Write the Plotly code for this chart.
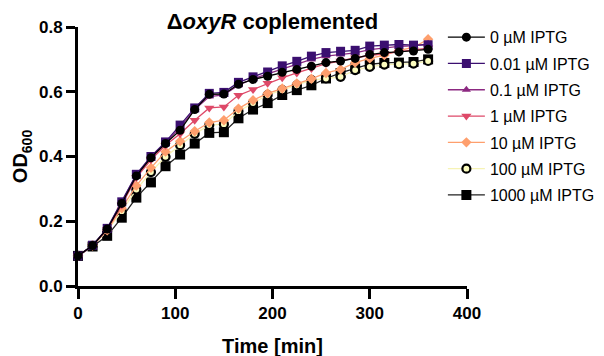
import plotly.graph_objects as go

time_min = [0, 15, 30, 45, 60, 75, 90, 105, 120, 135, 150, 165, 180, 195, 210,
            225, 240, 255, 270, 285, 300, 315, 330, 345, 360]

od_0uM = [0.093, 0.125, 0.176, 0.255, 0.340, 0.396, 0.440, 0.481, 0.545, 0.592, 0.593, 0.623, 0.638,
          0.648, 0.660, 0.669, 0.679, 0.690, 0.695, 0.703, 0.715, 0.721, 0.723, 0.726, 0.731]
od_001uM = [0.093, 0.126, 0.178, 0.260, 0.345, 0.400, 0.445, 0.497, 0.550, 0.595, 0.598, 0.629, 0.646,
            0.661, 0.680, 0.694, 0.710, 0.721, 0.725, 0.728, 0.741, 0.744, 0.746, 0.744, 0.745]
od_01uM = [0.093, 0.125, 0.177, 0.258, 0.343, 0.398, 0.442, 0.490, 0.545, 0.585, 0.590, 0.620, 0.640,
           0.655, 0.670, 0.685, 0.700, 0.710, 0.715, 0.720, 0.730, 0.735, 0.740, 0.742, 0.748]
od_1uM = [0.093, 0.124, 0.175, 0.250, 0.335, 0.390, 0.435, 0.470, 0.512, 0.550, 0.553, 0.589, 0.607,
          0.626, 0.643, 0.658, 0.672, 0.687, 0.695, 0.705, 0.712, 0.718, 0.722, 0.728, 0.735]
od_10uM = [0.093, 0.125, 0.172, 0.240, 0.310, 0.365, 0.415, 0.447, 0.478, 0.505, 0.512, 0.548, 0.574,
           0.595, 0.610, 0.626, 0.640, 0.658, 0.669, 0.690, 0.703, 0.713, 0.728, 0.737, 0.762]
od_100uM = [0.093, 0.124, 0.170, 0.231, 0.298, 0.352, 0.399, 0.435, 0.470, 0.497, 0.500, 0.540, 0.565,
            0.590, 0.605, 0.620, 0.636, 0.641, 0.646, 0.667, 0.677, 0.684, 0.685, 0.687, 0.695]
od_1000uM = [0.093, 0.122, 0.155, 0.211, 0.273, 0.320, 0.370, 0.406, 0.440, 0.473, 0.475, 0.518, 0.545,
             0.565, 0.590, 0.605, 0.620, 0.641, 0.658, 0.672, 0.685, 0.689, 0.690, 0.692, 0.700]

labels = ["0 µM IPTG", "0.01 µM IPTG", "0.1 µM IPTG", "1 µM IPTG",
          "10 µM IPTG", "100 µM IPTG", "1000 µM IPTG"]
series = [od_0uM, od_001uM, od_01uM, od_1uM, od_10uM, od_100uM, od_1000uM]
line_colors = ["#000000", "#3b0f70", "#8c2981", "#de4968", "#fe9f6d", "#f6f3b5", "#222222"]
fill_colors = ["#000000", "#3b0f70", "#8c2981", "#de4968", "#fe9f6d", "#fcfdbf", "#000000"]
outline_colors = ["#000000", "#3b0f70", "#8c2981", "#de4968", "#fe9f6d", "#000000", "#000000"]
outline_widths = [0, 0, 0, 0, 0, 2.2, 0]
symbols = ["circle", "square", "triangle-up", "triangle-down", "diamond", "circle", "square"]
sizes = [9, 9, 8, 9, 8, 8, 10]

FONT = "Liberation Sans, Arial, sans-serif"

fig = go.Figure()
# first series drawn on top (as in the original)
for i in reversed(range(len(series))):
    fig.add_trace(go.Scatter(
        x=time_min, y=series[i], name=labels[i], mode="lines+markers",
        legendrank=i + 1, legendgroup=labels[i], cliponaxis=False,
        line=dict(color=line_colors[i], width=1.3),
        marker=dict(symbol=symbols[i], size=sizes[i], color=fill_colors[i],
                    line=dict(color=outline_colors[i], width=outline_widths[i])),
    ))

fig.update_layout(
    width=640, height=356,
    margin=dict(l=70, r=181, t=19, b=78),
    paper_bgcolor="white", plot_bgcolor="white",
    font=dict(family=FONT, color="black"),
    title=dict(text="Δ<i>oxyR</i> coplemented", x=0.5, xanchor="center", xref="paper",
               y=0.963, yanchor="middle", yref="container",
               font=dict(size=22, weight="bold", family=FONT, color="black")),
    showlegend=True,
    legend=dict(x=0.938, xanchor="left", y=1.026, yanchor="top",
                maxheight=320, traceorder="grouped",
                font=dict(size=16, family=FONT, color="black"),
                tracegroupgap=2.5, bgcolor="rgba(0,0,0,0)", itemwidth=37),
    xaxis=dict(range=[0, 400], tickvals=[0, 100, 200, 300, 400],
               showline=True, linecolor="black", linewidth=3, mirror=False,
               ticks="outside", ticklen=10, tickwidth=3, tickcolor="black",
               showgrid=False, zeroline=False, automargin=False,
               tickfont=dict(size=17, weight="bold", family=FONT),
               title=dict(text="Time [min]", standoff=17,
                          font=dict(size=20, weight="bold", family=FONT))),
    yaxis=dict(range=[0, 0.8], tickvals=[0, 0.2, 0.4, 0.6, 0.8], tickformat=".1f",
               showline=True, linecolor="black", linewidth=3, mirror=False,
               ticks="outside", ticklen=9, tickwidth=3, tickcolor="black",
               showgrid=False, zeroline=False, automargin=False,
               tickfont=dict(size=17, weight="bold", family=FONT),
               title=dict(text="OD<sub>600</sub>", standoff=6,
                          font=dict(size=20, weight="bold", family=FONT))),
)

fig.write_html("out.html")
